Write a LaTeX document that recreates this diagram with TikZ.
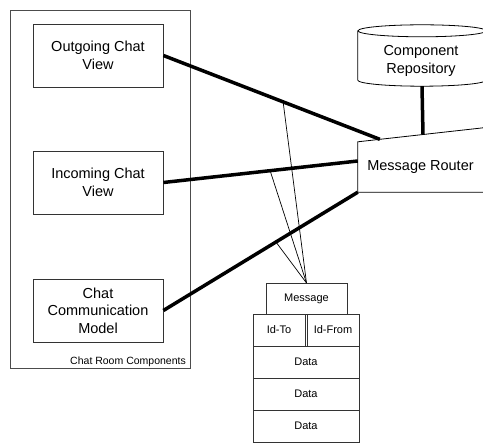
\documentclass[tikz,border=0pt]{standalone}
\usepackage{fontspec}
\setmainfont{Liberation Sans}
\usetikzlibrary{positioning,calc}

\begin{document}
\begin{tikzpicture}[x=1pt, y=-1pt,
    box/.style={draw=black!80, line width=0.8pt, minimum width=130pt, minimum height=63pt, align=center, inner sep=2pt, font=\fontsize{14.5}{17.5}\selectfont},
    cell/.style={draw=black!80, line width=0.8pt, minimum height=32pt, inner sep=0pt, outer sep=0pt, font=\fontsize{11}{13}\selectfont},
    link/.style={line width=3.5pt},
    tap/.style={line width=0.7pt}]
    \useasboundingbox (0,0) rectangle (483,443);

    % chat room components
    \node[draw=black!70, line width=0.8pt, minimum width=180pt, minimum height=358pt] (room) at (100,189) {};
    \node[anchor=base east, inner sep=0pt, font=\fontsize{10.5}{12}\selectfont] (roomlabel) at (186,365) {Chat Room Components};
    \node[box] (outview) at (98,55.5) {Outgoing Chat\\View};
    \node[box] (inview) at (98,182.5) {Incoming Chat\\View};
    \node[box] (model) at (98,310.5) {Chat\\Communication\\Model};

    % repository and router
    \node[minimum width=128pt, minimum height=61pt, inner sep=0pt] (repo) at (422,55.5) {};
    \node[align=center, inner sep=0pt, font=\fontsize{14.5}{17.5}\selectfont] (repotext) at (421,61) {Component\\Repository};
    \draw[line width=0.8pt] ([yshift=-6pt]repo.north west) -- ([yshift=6pt]repo.south west)
        arc[start angle=180, end angle=360, x radius=64pt, y radius=6pt] -- ([yshift=-6pt]repo.north east);
    \draw[line width=0.8pt] ([yshift=-6pt]repo.north) ellipse[x radius=64pt, y radius=6pt];

    \node[minimum width=125pt, minimum height=50pt, inner sep=0pt, font=\fontsize{14.5}{17.5}\selectfont] (router) at (420.5,167) {Message Router};
    \coordinate (routerne) at ($(router.north east)+(0,-14)$);
    \coordinate (routerin) at ($(router.north west)!0.176!(routerne)$);
    \coordinate (routertop) at ($(router.north west)!0.52!(routerne)$);
    \draw[line width=0.8pt] (routerne) -- (router.north west) -- (router.south west) -- (router.south east);

    % connections
    \draw[link] (outview.east) -- coordinate[pos=0.553] (tap1) (routerin);
    \draw[link] (inview.east) -- coordinate[pos=0.549] (tap2) ([yshift=6pt]router.west);
    \draw[link] (model.east) -- coordinate[pos=0.579] (tap3) (router.south west);
    \draw[link] (repo.south) -- (routertop);

    % message layout
    \node[cell, minimum width=81pt, minimum height=31pt] (msg) at (306.5,298.5) {Message};
    \node[cell, minimum width=52pt, anchor=north west] (idto) at (253,314) {Id-To};
    \node[cell, minimum width=52pt, right=2pt of idto] (idfrom) {Id-From};
    \node[cell, minimum width=106pt, anchor=north west] (data1) at (idto.south west) {Data};
    \node[cell, minimum width=106pt, below=0pt of data1] (data2) {Data};
    \node[cell, minimum width=106pt, below=0pt of data2] (data3) {Data};

    \foreach \t in {tap1,tap2,tap3}
        \draw[tap] (msg.north) -- (\t);
\end{tikzpicture}
\end{document}
